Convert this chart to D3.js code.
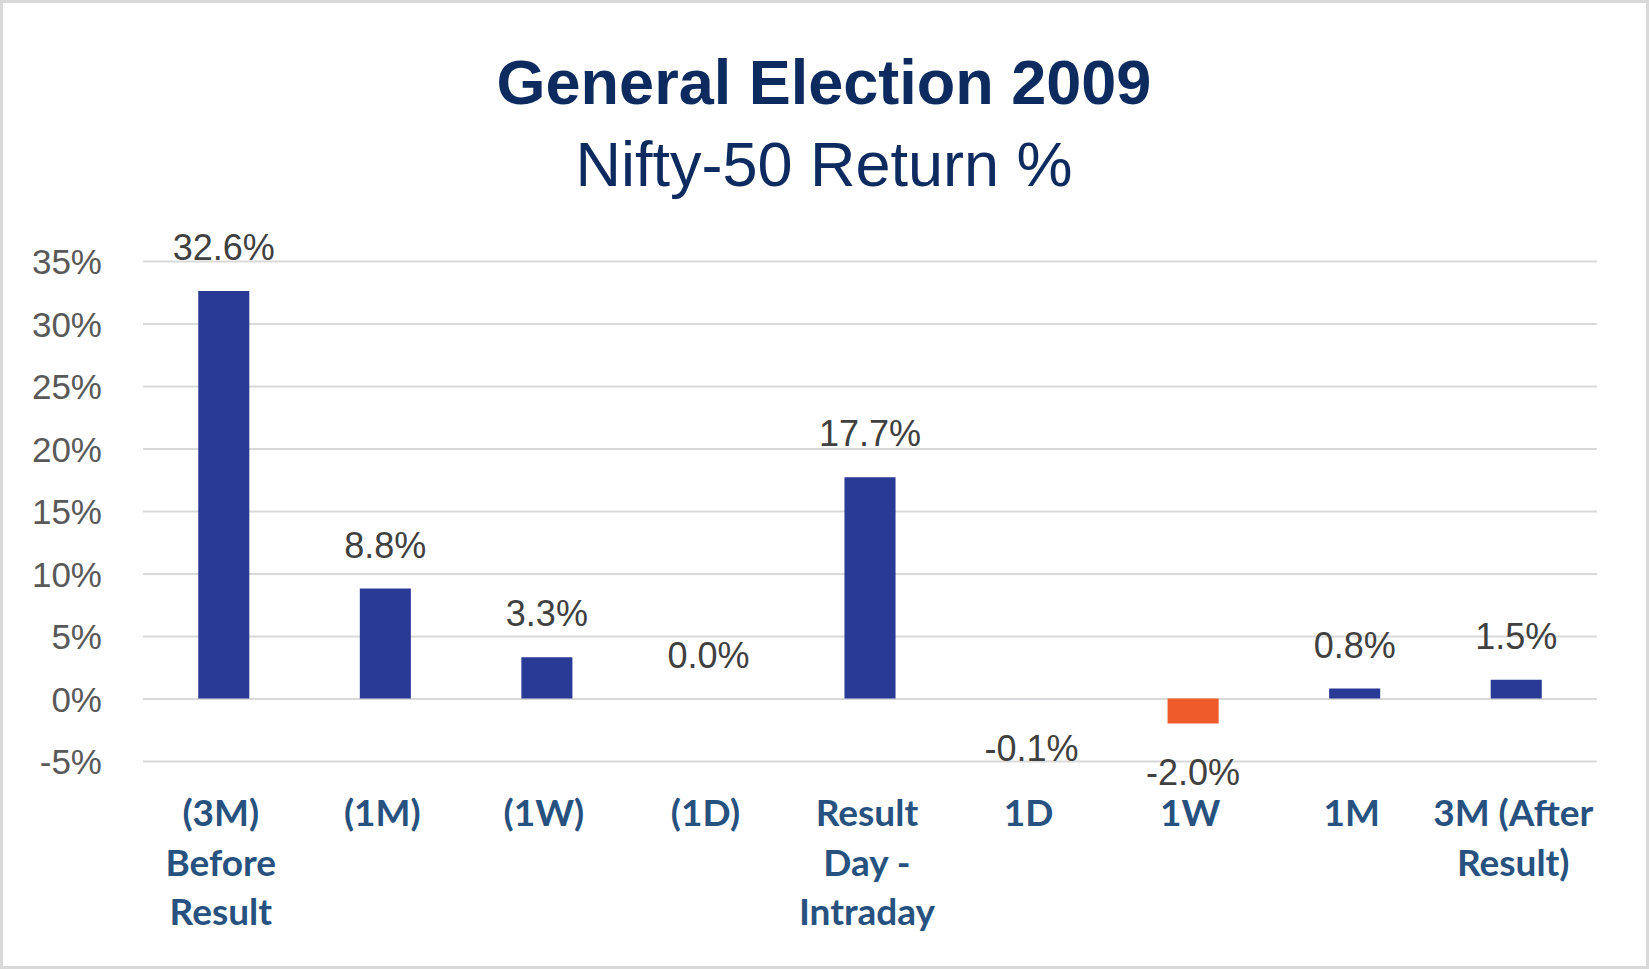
<!DOCTYPE html>
<html>
<head>
<meta charset="utf-8">
<script src="https://cdn.jsdelivr.net/npm/d3@7"></script>
<style>
  html, body { margin: 0; padding: 0; background: #ffffff; }
  svg { display: block; }
</style>
</head>
<body>
<svg id="chart" width="1649" height="969"></svg>
<script>
// ---- data ----
const titleText = "General Election 2009";
const subtitleText = "Nifty-50 Return %";
// "\n" marks the line breaks of the category labels
const categories = ["(3M)\nBefore\nResult", "(1M)", "(1W)", "(1D)", "Result\nDay -\nIntraday", "1D", "1W", "1M", "3M (After\nResult)"];
const values = [32.6, 8.8, 3.3, 0.0, 17.7, -0.1, -2.0, 0.8, 1.5];
const barColors = ["#283a96", "#283a96", "#283a96", "#283a96", "#283a96", "#d6d9df", "#ef5b2b", "#283a96", "#283a96"];
const yTicks = [-5, 0, 5, 10, 15, 20, 25, 30, 35];

// ---- layout ----
const W = 1649, H = 969;
const plot = { left: 143, right: 1597, top: 261, bottom: 761 };

const svg = d3.select("#chart");

svg.append("rect")
  .attr("x", 1.5).attr("y", 1.5)
  .attr("width", W - 3).attr("height", H - 3)
  .attr("fill", "#ffffff")
  .attr("stroke", "#d9d9d9").attr("stroke-width", 3);

const x = d3.scaleBand()
  .domain(categories)
  .range([plot.left, plot.right])
  .paddingInner(0.684)
  .paddingOuter(0.342);

const y = d3.scaleLinear()
  .domain([-5, 35])
  .range([plot.bottom, plot.top]);

// titles
svg.append("text")
  .attr("x", 824).attr("y", 104)
  .attr("text-anchor", "middle")
  .attr("font-family", "'Liberation Sans', Arial, sans-serif")
  .attr("font-weight", 700)
  .attr("font-size", 63)
  .attr("fill", "#0e2b60")
  .text(titleText);

svg.append("text")
  .attr("x", 824).attr("y", 186)
  .attr("text-anchor", "middle")
  .attr("font-family", "'Liberation Sans', Arial, sans-serif")
  .attr("font-weight", 400)
  .attr("font-size", 63)
  .attr("fill", "#0e2b60")
  .text(subtitleText);

// gridlines + y axis
const yAxis = d3.axisLeft(y)
  .tickValues(yTicks)
  .tickSize(-(plot.right - plot.left))
  .tickPadding(41)
  .tickFormat(d => d + "%");

const gY = svg.append("g")
  .attr("transform", `translate(${plot.left},0)`)
  .call(yAxis);
gY.select(".domain").remove();
gY.selectAll(".tick line").attr("stroke", "#d9d9d9").attr("stroke-width", 2);
gY.selectAll(".tick text")
  .attr("font-family", "'Liberation Sans', Arial, sans-serif")
  .attr("font-size", 35)
  .attr("fill", "#595959")
  .attr("dy", "0.36em");

// bars
svg.append("g").selectAll("rect")
  .data(values)
  .join("rect")
  .attr("x", (d, i) => x(categories[i]))
  .attr("width", x.bandwidth())
  .attr("y", d => y(Math.max(0, d)))
  .attr("height", d => Math.abs(y(d) - y(0)))
  .attr("fill", (d, i) => barColors[i]);

// data labels
svg.append("g").selectAll("text")
  .data(values)
  .join("text")
  .attr("x", (d, i) => x(categories[i]) + x.bandwidth() / 2)
  .attr("y", d => d >= 0 ? y(d) - 31 : y(d) + 61)
  .attr("text-anchor", "middle")
  .attr("font-family", "'Liberation Sans', Arial, sans-serif")
  .attr("font-size", 36)
  .attr("fill", "#404040")
  .text(d => d.toFixed(1) + "%");

// category labels (multi-line)
const xAxis = d3.axisBottom(x).tickSize(0).tickPadding(0);
const gX = svg.append("g")
  .attr("transform", `translate(0,${plot.bottom})`)
  .call(xAxis);
gX.select(".domain").remove();
gX.selectAll(".tick text")
  .attr("font-family", "Lato, 'Open Sans', sans-serif")
  .attr("font-weight", 700)
  .attr("font-size", 37)
  .attr("fill", "#27517f")
  .attr("y", 0)
  .attr("dy", null)
  .each(function(d) {
    const t = d3.select(this);
    t.text(null);
    d.split("\n").forEach((l, k) => {
      t.append("tspan")
        .attr("x", -3)
        .attr("y", 65 + k * 49.5)
        .text(l);
    });
  });
</script>
</body>
</html>
